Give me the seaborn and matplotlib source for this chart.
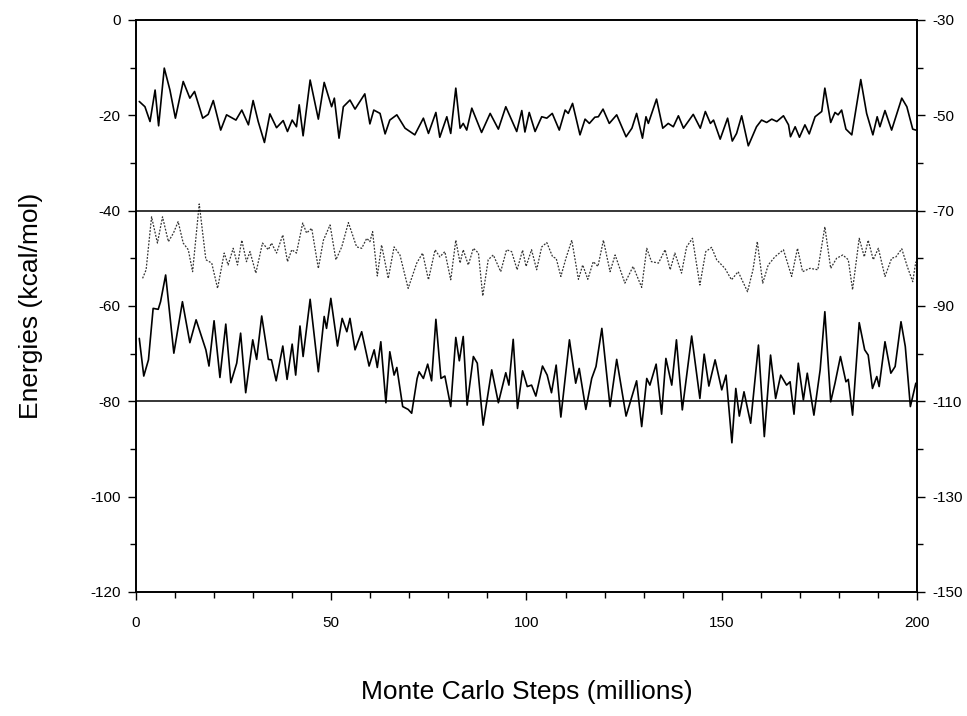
import numpy as np
import pandas as pd
import seaborn as sns
import matplotlib.pyplot as plt
from matplotlib.ticker import MultipleLocator

# upper solid trace
top_steps = [0.85, 2.3, 3.6, 4.9, 5.8, 7.25, 8.7, 10.1, 12.1, 13.8, 15.0, 17.1, 18.5, 19.8, 21.7, 23.2,
             25.6, 27.1, 28.8, 30.0, 31.3, 32.9, 34.3, 36.0, 37.7, 38.8, 40.0, 41.1, 41.8, 42.8, 44.6,
             46.7, 48.2, 50.1, 50.8, 52.0, 53.1, 54.8, 56.1, 58.6, 59.9, 60.9, 62.5, 63.8, 65.0, 66.8,
             68.9, 71.4, 73.6, 74.9, 76.8, 77.8, 79.6, 80.6, 81.9, 83.0, 83.8, 84.7, 86.0, 88.5, 90.7,
             92.8, 94.7, 96.2, 97.5, 98.8, 99.6, 100.7, 102.2, 103.9, 105.2, 106.6, 108.4, 109.9, 110.7,
             111.8, 113.7, 115.0, 116.1, 117.5, 118.4, 119.6, 121.2, 123.1, 125.5, 127.0, 128.2, 129.7,
             130.6, 131.2, 133.3, 134.9, 136.3, 137.6, 138.9, 140.2, 142.7, 144.5, 145.8, 147.1, 147.9,
             149.6, 151.5, 152.7, 153.8, 155.1, 156.8, 158.9, 160.2, 161.5, 162.8, 164.1, 165.8, 167.1,
             167.6, 168.8, 169.9, 171.3, 172.4, 173.9, 175.6, 176.4, 177.9, 179.0, 179.8, 180.7, 181.8,
             183.3, 185.6, 187.1, 188.7, 189.8, 190.5, 191.8, 193.5, 196.1, 197.4, 198.9, 199.7]
top_energy = [-17.1, -18.2, -21.3, -14.7, -22.2, -10.1, -14.7, -20.6, -12.9, -16.4, -15.0, -20.6, -19.8,
              -16.9, -23.1, -19.9, -21.0, -18.9, -22.0, -16.9, -21.3, -25.7, -19.7, -22.6, -21.1, -23.4,
              -21.0, -22.4, -17.8, -24.3, -12.6, -20.8, -13.1, -18.2, -16.4, -24.8, -18.2, -16.8, -18.7,
              -15.5, -21.8, -18.9, -19.6, -23.9, -21.0, -19.9, -22.7, -24.1, -20.6, -23.8, -19.4, -24.6,
              -20.3, -23.8, -14.3, -22.7, -21.7, -23.1, -18.5, -23.6, -19.6, -22.9, -18.2, -21.0, -23.4,
              -19.0, -23.5, -19.4, -23.4, -20.3, -20.6, -19.6, -23.1, -18.9, -19.6, -17.5, -24.1, -20.8,
              -21.7, -20.4, -20.3, -18.7, -21.7, -19.9, -24.5, -22.7, -19.6, -24.8, -20.3, -21.7, -16.6,
              -22.7, -21.7, -22.4, -20.1, -22.7, -19.8, -22.7, -19.2, -21.7, -21.0, -25.0, -20.6, -25.4,
              -23.8, -20.1, -26.4, -22.4, -21.0, -21.5, -20.8, -21.3, -20.1, -22.0, -24.5, -22.4, -24.6,
              -22.0, -23.9, -20.3, -19.2, -14.3, -21.5, -19.4, -19.9, -18.9, -22.9, -24.1, -12.5, -19.6,
              -24.1, -20.3, -22.4, -19.0, -23.1, -16.4, -18.2, -22.9, -23.1]

# middle dotted trace
mid_steps = [1.7, 2.6, 4.0, 5.5, 6.8, 8.3, 9.6, 10.8, 12.1, 13.4, 14.5, 16.2, 17.9, 19.4, 20.9, 22.6,
             23.6, 24.9, 26.0, 27.1, 28.3, 29.2, 30.7, 32.4, 33.9, 34.7, 36.0, 37.6, 38.8, 39.9, 41.1,
             42.7, 43.7, 45.0, 46.7, 48.0, 49.7, 51.2, 52.7, 54.4, 56.5, 57.8, 59.1, 59.9, 60.6, 61.8,
             62.9, 64.6, 66.1, 67.6, 69.7, 71.9, 73.4, 74.9, 76.6, 77.8, 79.1, 80.6, 81.9, 83.0, 83.8,
             85.1, 86.4, 87.7, 88.8, 90.2, 91.5, 93.4, 94.9, 96.2, 97.6, 99.0, 99.9, 101.3, 102.6, 103.9,
             105.2, 106.7, 107.6, 108.8, 110.1, 111.6, 113.3, 114.4, 115.7, 117.1, 118.3, 119.7, 121.4,
             122.7, 125.2, 127.3, 129.5, 130.8, 132.0, 133.8, 135.5, 136.8, 138.0, 139.7, 141.0, 142.5,
             144.4, 145.9, 147.4, 148.7, 150.8, 152.5, 154.2, 156.6, 158.0, 159.1, 160.5, 161.9, 163.6,
             165.8, 167.9, 169.4, 170.7, 172.6, 174.6, 176.4, 177.9, 179.4, 181.0, 182.4, 183.5, 185.2,
             186.5, 187.5, 188.8, 190.1, 191.8, 193.5, 194.6, 196.1, 197.5, 198.9, 199.7]
mid_energy = [-54.2, -52.4, -41.3, -46.8, -41.3, -46.5, -44.7, -42.3, -46.8, -48.2, -52.8, -38.6, -50.3,
              -51.0, -56.3, -48.9, -51.4, -47.9, -51.4, -46.2, -50.7, -48.6, -53.1, -46.8, -48.2, -46.8,
              -48.9, -45.1, -50.7, -48.2, -48.9, -42.6, -44.7, -43.7, -52.1, -46.2, -43.0, -50.3, -47.6,
              -42.5, -47.6, -47.9, -45.8, -46.5, -44.4, -53.7, -47.2, -54.2, -47.6, -49.3, -56.3, -51.0,
              -48.9, -54.5, -48.2, -49.7, -48.6, -54.5, -46.2, -51.0, -48.2, -51.4, -47.9, -48.9, -57.9,
              -50.3, -49.3, -52.8, -48.2, -48.6, -52.4, -48.3, -51.7, -48.2, -52.4, -47.6, -46.7, -49.7,
              -50.0, -53.8, -50.0, -46.2, -54.4, -51.4, -54.4, -50.7, -51.7, -46.2, -52.8, -49.3, -55.2,
              -51.7, -56.1, -47.9, -50.7, -51.0, -48.2, -52.4, -48.9, -53.1, -47.6, -45.8, -55.6, -48.6,
              -47.7, -50.3, -52.1, -54.5, -52.8, -57.0, -52.4, -46.5, -55.2, -51.4, -49.7, -48.2, -53.8,
              -47.9, -52.8, -52.1, -52.4, -43.4, -52.1, -50.0, -49.3, -50.3, -56.6, -45.8, -49.7, -46.2,
              -50.3, -47.9, -53.8, -50.0, -49.7, -48.0, -51.7, -54.9, -50.7]

# lower solid trace
low_steps = [0.85, 2.0, 3.2, 4.4, 5.7, 6.3, 7.6, 8.7, 9.7, 11.9, 13.8, 15.4, 16.8, 17.9, 18.7, 20.0,
             21.5, 23.0, 24.3, 25.8, 26.8, 28.1, 29.9, 30.9, 32.2, 33.9, 34.7, 35.9, 37.6, 38.7, 40.0,
             40.9, 42.0, 42.8, 44.6, 46.7, 48.2, 48.8, 49.9, 51.6, 52.8, 54.0, 54.8, 56.1, 57.8, 59.7,
             61.0, 61.8, 62.7, 64.0, 65.0, 66.1, 66.8, 68.3, 69.7, 70.6, 72.0, 72.5, 73.6, 74.7, 75.7,
             76.8, 78.1, 79.1, 80.6, 81.9, 82.8, 83.8, 84.8, 86.4, 87.4, 88.9, 91.1, 92.8, 94.7, 95.5,
             96.6, 97.7, 99.0, 100.2, 101.3, 102.4, 104.1, 105.3, 106.4, 107.6, 108.8, 111.0, 112.6,
             113.5, 115.2, 116.7, 117.8, 119.3, 121.4, 123.1, 125.5, 128.2, 129.5, 130.8, 131.6, 133.2,
             134.6, 135.7, 137.2, 138.4, 139.9, 142.3, 144.4, 145.5, 146.7, 148.3, 150.0, 151.1, 152.6,
             153.6, 154.5, 155.7, 157.4, 159.4, 160.9, 162.5, 163.8, 165.1, 166.6, 167.5, 168.5, 169.6,
             170.9, 171.9, 173.6, 175.2, 176.4, 177.9, 179.0, 180.4, 181.8, 182.4, 183.5, 185.2, 186.6,
             187.5, 188.6, 189.7, 190.3, 191.8, 193.3, 194.4, 195.9, 197.0, 198.3, 199.7]
low_energy = [-66.8, -74.7, -71.3, -60.5, -60.7, -59.1, -53.5, -62.2, -69.9, -59.1, -67.7, -62.9, -66.4,
              -69.2, -72.6, -63.1, -75.0, -63.8, -76.1, -72.0, -65.7, -78.2, -67.1, -71.2, -62.1, -71.2,
              -71.3, -75.7, -68.4, -75.4, -68.0, -74.5, -64.2, -70.6, -58.6, -73.8, -62.2, -64.7, -58.4,
              -68.4, -62.6, -65.4, -62.6, -69.2, -65.4, -72.6, -69.2, -72.9, -67.5, -80.3, -69.6, -74.5,
              -72.9, -81.1, -81.7, -82.5, -75.2, -73.8, -75.2, -72.2, -75.7, -62.8, -75.2, -74.7, -81.1,
              -66.6, -71.5, -66.4, -80.8, -70.6, -72.0, -85.0, -73.4, -80.3, -74.0, -76.6, -67.0, -81.5,
              -73.6, -76.9, -76.6, -78.9, -72.6, -74.5, -78.2, -72.4, -83.3, -67.1, -76.2, -73.1, -81.7,
              -75.2, -72.7, -64.7, -81.1, -71.2, -83.1, -75.7, -85.3, -75.2, -76.6, -72.2, -82.7, -71.0,
              -76.6, -67.1, -81.8, -66.3, -79.4, -70.1, -76.8, -71.3, -77.6, -74.5, -88.7, -77.3, -83.1,
              -78.0, -84.6, -68.2, -87.4, -70.3, -79.4, -74.5, -76.6, -75.9, -82.7, -72.0, -79.7, -74.1,
              -82.9, -73.4, -61.2, -80.1, -76.2, -70.6, -75.9, -75.4, -82.9, -63.5, -69.2, -70.3, -77.3,
              -74.8, -76.9, -67.5, -74.1, -72.7, -63.3, -68.5, -81.1, -76.2]

ref_levels = [-40, -80]
left_ticks = [0, -20, -40, -60, -80, -100, -120]
right_ticks = [-30, -50, -70, -90, -110, -130, -150]

sns.set_style("ticks")
plt.rcParams['font.family'] = ['Liberation Sans', 'DejaVu Sans']
plt.rcParams['axes.unicode_minus'] = False
plt.rcParams['text.color'] = 'black'
plt.rcParams['axes.labelcolor'] = 'black'
plt.rcParams['xtick.color'] = 'black'
plt.rcParams['ytick.color'] = 'black'

fig = plt.figure(figsize=(9.67, 7.16), dpi=100)
ax = fig.add_axes([0.1406, 0.1732, 0.8077, 0.7989])

sns.lineplot(x=top_steps, y=top_energy, ax=ax, color='black', linewidth=1.2, estimator=None)
sns.lineplot(x=mid_steps, y=mid_energy, ax=ax, color='#333333', linewidth=0.9,
             linestyle=(0, (1.5, 1.2)), estimator=None)
sns.lineplot(x=low_steps, y=low_energy, ax=ax, color='black', linewidth=1.2, estimator=None)
for lvl in ref_levels:
    ax.axhline(lvl, color='black', linewidth=1.1)

ax.set_xlim(0, 200)
ax.set_ylim(-120, 0)
ax.set_yticks(left_ticks)
ax.yaxis.set_minor_locator(MultipleLocator(10))
ax.xaxis.set_major_locator(MultipleLocator(50))
ax.xaxis.set_minor_locator(MultipleLocator(10))
ax.tick_params(axis='both', which='major', labelsize=11, length=6, width=1, color='black',
               labelcolor='black')
ax.tick_params(axis='both', which='minor', length=4, width=1, color='black')
ax.tick_params(axis='x', which='major', pad=11)
ax.tick_params(axis='y', which='major', pad=5)

ax2 = ax.twinx()
ax2.set_ylim(-150, -30)
ax2.set_yticks(right_ticks)
ax2.yaxis.set_minor_locator(MultipleLocator(10))
ax2.tick_params(axis='y', which='major', labelsize=11, length=6, width=1, pad=5,
                color='black', labelcolor='black')
ax2.tick_params(axis='y', which='minor', length=4, width=1, color='black')

for a in (ax, ax2):
    for s in a.spines.values():
        s.set_visible(True)
        s.set_linewidth(1.2)
        s.set_color('black')

ax.set_xlabel('Monte Carlo Steps (millions)', fontsize=19, labelpad=36, color='black')
ax.set_ylabel('Energies (kcal/mol)', fontsize=19, labelpad=34, color='black')

fig.savefig('out.png', dpi=100)
plt.close(fig)
